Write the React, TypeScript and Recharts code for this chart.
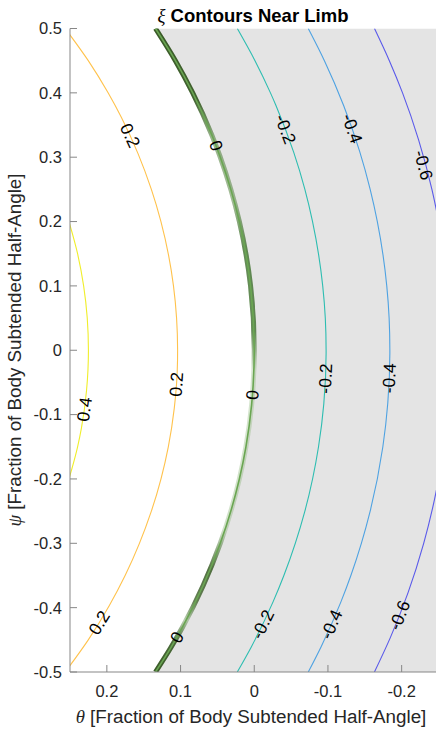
import React from 'react';
import { ComposedChart, XAxis, YAxis, Line, Area, Scatter } from 'recharts';

type Pt = { psi: number; theta: number | null };

// Axis ticks
const thetaTicks = [0.2, 0.1, 0, -0.1, -0.2];
const psiTicks = [0.5, 0.4, 0.3, 0.2, 0.1, 0, -0.1, -0.2, -0.3, -0.4, -0.5];

// Contour paths (theta vs psi); a null theta breaks the line where a label sits
const contourP04: Pt[] = [
  { psi: 0.21, theta: 0.254 },
  { psi: 0.15, theta: 0.2397 },
  { psi: 0.1, theta: 0.2315 },
  { psi: 0.05, theta: 0.2266 },
  { psi: 0, theta: 0.225 },
  { psi: -0.03, theta: 0.2256 },
  { psi: -0.063, theta: 0.2276 },
  { psi: -0.092, theta: null },
  { psi: -0.121, theta: 0.2345 },
  { psi: -0.15, theta: 0.2397 },
  { psi: -0.21, theta: 0.254 },
];

const contourP02: Pt[] = [
  { psi: 0.5, theta: 0.2565 },
  { psi: 0.45, theta: 0.2252 },
  { psi: 0.4, theta: 0.1983 },
  { psi: 0.3616, theta: 0.1802 },
  { psi: 0.334, theta: null },
  { psi: 0.3056, theta: 0.1577 },
  { psi: 0.25, theta: 0.1396 },
  { psi: 0.2, theta: 0.1266 },
  { psi: 0.1, theta: 0.1096 },
  { psi: 0.05, theta: 0.1054 },
  { psi: 0, theta: 0.104 },
  { psi: -0.016, theta: 0.1041 },
  { psi: -0.053, theta: null },
  { psi: -0.09, theta: 0.1085 },
  { psi: -0.15, theta: 0.1166 },
  { psi: -0.25, theta: 0.1396 },
  { psi: -0.35, theta: 0.1752 },
  { psi: -0.397, theta: 0.1968 },
  { psi: -0.42, theta: null },
  { psi: -0.45, theta: 0.2252 },
  { psi: -0.5, theta: 0.2565 },
];

const contourZero: Pt[] = [
  { psi: 0.5, theta: 0.134 },
  { psi: 0.45, theta: 0.107 },
  { psi: 0.4, theta: 0.0835 },
  { psi: 0.334, theta: 0.0574 },
  { psi: 0.318, theta: null },
  { psi: 0.302, theta: 0.0467 },
  { psi: 0.25, theta: 0.0318 },
  { psi: 0.2, theta: 0.0202 },
  { psi: 0.1, theta: 0.005 },
  { psi: 0, theta: 0 },
  { psi: -0.054, theta: 0.0015 },
  { psi: -0.07, theta: null },
  { psi: -0.085, theta: 0.0036 },
  { psi: -0.15, theta: 0.0113 },
  { psi: -0.2, theta: 0.0202 },
  { psi: -0.3, theta: 0.0461 },
  { psi: -0.43, theta: 0.0972 },
  { psi: -0.446, theta: null },
  { psi: -0.462, theta: 0.1131 },
  { psi: -0.5, theta: 0.134 },
];

// Unbroken limb edge, bounding the shaded off-limb region
const limbEdge: Pt[] = [
  { psi: 0.5, theta: 0.134 },
  { psi: 0.45, theta: 0.107 },
  { psi: 0.4, theta: 0.0835 },
  { psi: 0.35, theta: 0.0633 },
  { psi: 0.3, theta: 0.0461 },
  { psi: 0.25, theta: 0.0318 },
  { psi: 0.2, theta: 0.0202 },
  { psi: 0.15, theta: 0.0113 },
  { psi: 0.1, theta: 0.005 },
  { psi: 0.05, theta: 0.0013 },
  { psi: 0, theta: 0 },
  { psi: -0.05, theta: 0.0013 },
  { psi: -0.1, theta: 0.005 },
  { psi: -0.15, theta: 0.0113 },
  { psi: -0.2, theta: 0.0202 },
  { psi: -0.25, theta: 0.0318 },
  { psi: -0.3, theta: 0.0461 },
  { psi: -0.35, theta: 0.0633 },
  { psi: -0.4, theta: 0.0835 },
  { psi: -0.45, theta: 0.107 },
  { psi: -0.5, theta: 0.134 },
];

const contourM02: Pt[] = [
  { psi: 0.5, theta: 0.023 },
  { psi: 0.45, theta: -0.001 },
  { psi: 0.4, theta: -0.022 },
  { psi: 0.38, theta: -0.0296 },
  { psi: 0.3435, theta: null },
  { psi: 0.307, theta: -0.0537 },
  { psi: 0.25, theta: -0.0687 },
  { psi: 0.2, theta: -0.0791 },
  { psi: 0.1, theta: -0.0929 },
  { psi: 0.05, theta: -0.0964 },
  { psi: 0, theta: -0.0975 },
  { psi: -0.005, theta: -0.0975 },
  { psi: -0.044, theta: null },
  { psi: -0.083, theta: -0.0944 },
  { psi: -0.15, theta: -0.0872 },
  { psi: -0.25, theta: -0.0687 },
  { psi: -0.35, theta: -0.0402 },
  { psi: -0.391, theta: -0.0255 },
  { psi: -0.426, theta: null },
  { psi: -0.461, theta: 0.004 },
  { psi: -0.5, theta: 0.023 },
];

const contourM04: Pt[] = [
  { psi: 0.5, theta: -0.0733 },
  { psi: 0.45, theta: -0.0952 },
  { psi: 0.38, theta: -0.1214 },
  { psi: 0.3445, theta: null },
  { psi: 0.309, theta: -0.143 },
  { psi: 0.25, theta: -0.1573 },
  { psi: 0.2, theta: -0.167 },
  { psi: 0.1, theta: -0.1798 },
  { psi: 0.05, theta: -0.183 },
  { psi: 0, theta: -0.184 },
  { psi: -0.005, theta: -0.184 },
  { psi: -0.0435, theta: null },
  { psi: -0.082, theta: -0.1812 },
  { psi: -0.15, theta: -0.1745 },
  { psi: -0.25, theta: -0.1573 },
  { psi: -0.35, theta: -0.1311 },
  { psi: -0.391, theta: -0.1176 },
  { psi: -0.426, theta: null },
  { psi: -0.461, theta: -0.0906 },
  { psi: -0.5, theta: -0.0733 },
];

const contourM06: Pt[] = [
  { psi: 0.5, theta: -0.1631 },
  { psi: 0.45, theta: -0.1833 },
  { psi: 0.4, theta: -0.2012 },
  { psi: 0.327, theta: -0.223 },
  { psi: 0.288, theta: null },
  { psi: 0.249, theta: -0.2413 },
  { psi: 0.2, theta: -0.2501 },
  { psi: 0.15, theta: -0.2571 },
  { psi: 0.1, theta: -0.2621 },
  { psi: 0, theta: -0.266 },
  { psi: -0.1, theta: -0.2621 },
  { psi: -0.2, theta: -0.2501 },
  { psi: -0.3, theta: -0.2299 },
  { psi: -0.377, theta: -0.2086 },
  { psi: -0.412, theta: null },
  { psi: -0.447, theta: -0.1845 },
  { psi: -0.5, theta: -0.1631 },
];

// Inline contour labels: text, anchor point on the contour, and text rotation
const contourLabels = [
  { text: '0.4', theta: 0.2305, psi: -0.092, angle: -82.2 },
  { text: '0.2', theta: 0.1684, psi: 0.3336, angle: 65.3 },
  { text: '0.2', theta: 0.1056, psi: -0.053, angle: -86.1 },
  { text: '0.2', theta: 0.2104, psi: -0.4235, angle: -58.4 },
  { text: '0', theta: 0.0519, psi: 0.318, angle: 69.0 },
  { text: '0', theta: 0.0024, psi: -0.0695, angle: -85.4 },
  { text: '0', theta: 0.105, psi: -0.446, angle: -60.3 },
  { text: '-0.2', theta: -0.0424, psi: 0.3435, angle: 69.3 },
  { text: '-0.2', theta: -0.0966, psi: -0.044, angle: -87.4 },
  { text: '-0.2', theta: -0.0115, psi: -0.426, angle: -64.2 },
  { text: '-0.4', theta: -0.1328, psi: 0.3445, angle: 70.8 },
  { text: '-0.4', theta: -0.1832, psi: -0.0435, angle: -87.6 },
  { text: '-0.4', theta: -0.1047, psi: -0.426, angle: -66.2 },
  { text: '-0.6', theta: -0.2295, psi: 0.288, angle: 75.0 },
  { text: '-0.6', theta: -0.1971, psi: -0.412, angle: -68.5 },
];

const thinContours = [
  { key: 'p04', data: contourP04, color: '#f0ee2a' },
  { key: 'p02', data: contourP02, color: '#ffc24c' },
  { key: 'm02', data: contourM02, color: '#2dbdb1' },
  { key: 'm04', data: contourM04, color: '#4ea2e2' },
  { key: 'm06', data: contourM06, color: '#5a5aea' },
];

const AXIS_GRAY = '#878787';
const TEXT_DARK = '#262626';
const SANS = '"Liberation Sans", Arial, Helvetica, sans-serif';
const SERIF = '"Liberation Serif", "DejaVu Serif", serif';

const tickStyle = { fill: TEXT_DARK, fontSize: 16.5, fontFamily: SANS };

const LabelShape = (props: any) => {
  const { cx, cy, payload } = props;
  if (cx == null || cy == null) return null;
  return (
    <text
      x={cx}
      y={cy}
      transform={`rotate(${payload.angle} ${cx} ${cy})`}
      textAnchor="middle"
      dominantBaseline="central"
      fontFamily={SANS}
      fontSize={17.5}
      fill="#000"
    >
      {payload.text}
    </text>
  );
};

export default function App() {
  return (
    <div
      style={{
        position: 'absolute',
        left: 0,
        top: 0,
        width: 436,
        height: 733,
        overflow: 'hidden',
        background: '#fff',
      }}
    >
      <ComposedChart
        width={440}
        height={733}
        layout="vertical"
        margin={{ top: 28.5, right: 1.5, bottom: 1, left: 0 }}
      >
        <defs>
          <linearGradient id="limbStroke" x1="0" y1="0" x2="0" y2="1">
            <stop offset="0" stopColor="#3a5a28" stopOpacity={1} />
            <stop offset="0.11" stopColor="#3a5a28" stopOpacity={0.95} />
            <stop offset="0.17" stopColor="#3f6a2c" stopOpacity={0.45} />
            <stop offset="0.27" stopColor="#3f6a2c" stopOpacity={0.4} />
            <stop offset="0.34" stopColor="#3a6a2a" stopOpacity={0.75} />
            <stop offset="0.47" stopColor="#3a6a2a" stopOpacity={0.75} />
            <stop offset="0.53" stopColor="#3f6a2c" stopOpacity={0.08} />
            <stop offset="0.78" stopColor="#3f6a2c" stopOpacity={0.12} />
            <stop offset="0.84" stopColor="#3a5a28" stopOpacity={0.85} />
            <stop offset="0.89" stopColor="#3a5a28" stopOpacity={0.75} />
            <stop offset="0.92" stopColor="#3f6a2c" stopOpacity={0.25} />
            <stop offset="0.955" stopColor="#3a5a28" stopOpacity={0.9} />
            <stop offset="1" stopColor="#3a5a28" stopOpacity={1} />
          </linearGradient>
        </defs>

        <XAxis
          xAxisId="b"
          type="number"
          dataKey="theta"
          domain={[-0.25, 0.25]}
          reversed
          allowDataOverflow
          ticks={thetaTicks}
          interval={0}
          height={60}
          tickSize={-7}
          tickMargin={20}
          stroke={AXIS_GRAY}
          tick={tickStyle}
        />
        <XAxis
          xAxisId="t"
          orientation="top"
          type="number"
          domain={[-0.25, 0.25]}
          reversed
          allowDataOverflow
          ticks={thetaTicks}
          interval={0}
          height={0}
          tickSize={-7}
          tickFormatter={() => ''}
          stroke={AXIS_GRAY}
        />
        <YAxis
          yAxisId="l"
          type="number"
          dataKey="psi"
          domain={[-0.5, 0.5]}
          reversed
          allowDataOverflow
          ticks={psiTicks}
          interval={0}
          width={70}
          tickSize={-7}
          tickMargin={15}
          stroke={AXIS_GRAY}
          tick={tickStyle}
        />
        <YAxis
          yAxisId="r"
          orientation="right"
          type="number"
          domain={[-0.5, 0.5]}
          reversed
          allowDataOverflow
          ticks={psiTicks}
          interval={0}
          width={0}
          tickSize={-7}
          tickFormatter={() => ''}
          stroke={AXIS_GRAY}
        />

        <Area
          xAxisId="b"
          yAxisId="l"
          data={limbEdge}
          dataKey="theta"
          type="monotone"
          baseValue={-0.25}
          stroke="none"
          fill="#e4e4e4"
          fillOpacity={1}
          isAnimationActive={false}
        />

        {thinContours.map((c) => (
          <Line
            key={c.key}
            xAxisId="b"
            yAxisId="l"
            data={c.data}
            dataKey="theta"
            type="monotone"
            stroke={c.color}
            strokeWidth={1.1}
            dot={false}
            activeDot={false}
            isAnimationActive={false}
          />
        ))}

        <Line
          xAxisId="b"
          yAxisId="l"
          data={contourZero}
          dataKey="theta"
          type="monotone"
          stroke="#a6cf93"
          strokeOpacity={0.3}
          strokeWidth={5}
          dot={false}
          activeDot={false}
          isAnimationActive={false}
        />
        <Line
          xAxisId="b"
          yAxisId="l"
          data={contourZero}
          dataKey="theta"
          type="monotone"
          stroke="url(#limbStroke)"
          strokeWidth={5}
          dot={false}
          activeDot={false}
          isAnimationActive={false}
        />
        <Line
          xAxisId="b"
          yAxisId="l"
          data={contourZero}
          dataKey="theta"
          type="monotone"
          stroke="#6aa652"
          strokeWidth={1.6}
          dot={false}
          activeDot={false}
          isAnimationActive={false}
        />

        <Scatter
          xAxisId="b"
          yAxisId="l"
          data={contourLabels}
          shape={LabelShape}
          isAnimationActive={false}
        />
      </ComposedChart>

      <svg
        width={436}
        height={733}
        style={{ position: 'absolute', left: 0, top: 0, pointerEvents: 'none' }}
      >
        <text
          x={253}
          y={21.7}
          textAnchor="middle"
          fontFamily={SANS}
          fontSize={18.5}
          fontWeight="bold"
          fill="#000"
        >
          <tspan fontFamily={SERIF} fontStyle="italic" fontWeight="normal">ξ</tspan>
          <tspan> Contours Near Limb</tspan>
        </text>
        <text
          x={251}
          y={723.3}
          textAnchor="middle"
          fontFamily={SANS}
          fontSize={18.8}
          fill={TEXT_DARK}
        >
          <tspan fontFamily={SERIF} fontStyle="italic">θ</tspan>
          <tspan> [Fraction of Body Subtended Half-Angle]</tspan>
        </text>
        <text
          transform="translate(20.5 350) rotate(-90)"
          textAnchor="middle"
          fontFamily={SANS}
          fontSize={18.8}
          fill={TEXT_DARK}
        >
          <tspan fontFamily={SERIF} fontStyle="italic">ψ</tspan>
          <tspan> [Fraction of Body Subtended Half-Angle]</tspan>
        </text>
      </svg>
    </div>
  );
}
